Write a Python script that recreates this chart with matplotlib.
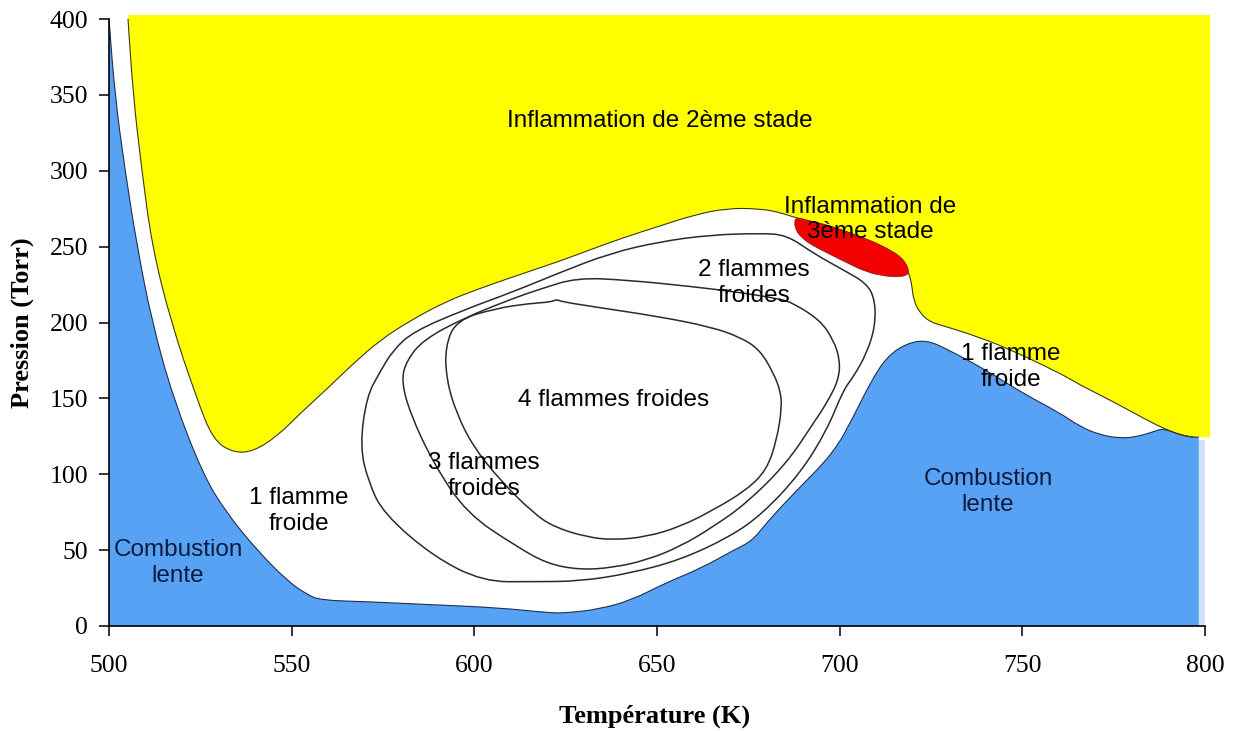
import matplotlib
matplotlib.use("Agg")
import matplotlib.pyplot as plt
from matplotlib.path import Path
from matplotlib.patches import PathPatch

# ---------------- data (T in K, P in Torr) ----------------
# upper boundary of the slow-combustion (blue) region, left to right
blue_T = [500, 501.6, 504.4, 507.7, 511.8, 517.6, 525.7, 532, 540.5, 548.7, 554, 557.8,
          570.6, 588.7, 607, 620.7, 625, 634, 643, 652, 662, 671, 676, 680, 687.4,
          698.3, 703.8, 708.3, 712.9, 718.4, 723.8, 729.8, 740, 750.2, 760.4, 765.8,
          771.3, 776.8, 781.3, 785.9, 788.6, 793.2, 796.8, 798.3]
blue_P = [400, 350, 300, 250, 200, 150, 100, 75, 50, 30, 21, 17,
          16, 14, 12, 8.6, 8.6, 11, 17, 28, 38, 50, 56, 68, 87.4,
          113.8, 138, 160, 177.5, 186.3, 188.5, 182, 168.7, 153.3, 140.2, 131.4,
          125.9, 123.7, 124.7, 128, 130.3, 125.9, 124.4, 124.4]

# lower boundary of the second-stage ignition (yellow) region, left to right
yellow_T = [505.2, 506.6, 509, 511.8, 517, 524, 528.5, 534, 539.5, 546, 552.3, 560, 566,
            574.2, 583, 592.4, 601, 610.7, 623.5, 634, 641.7, 650, 660, 669.1, 678.2,
            683.7, 688.3, 696.5, 705.6, 713.8, 717.4, 718.8, 719.7, 720.2, 722, 724.7,
            727.5, 734.9, 745.1, 760.4, 765.8, 774.9, 784.1, 788.6, 793.2, 796.8, 801.4]
yellow_P = [400, 350, 300, 250, 200, 150, 122.6, 114.2, 115, 125, 140, 157, 171,
            188.5, 202, 214, 222, 230.2, 240.5, 250, 256.6, 263, 270.8, 275.3, 275,
            272.5, 268.7, 264.3, 256.6, 247.8, 241.2, 233.5, 225.8, 214.8, 206.1, 200.5,
            198.4, 193, 184, 166.5, 158.8, 147.8, 135.7, 130.3, 125.9, 124.4, 124.5]
yellow_top = 402.6

# third-stage ignition (red) region outline
red_T = [688.0, 692.0, 696.5, 701.0, 705.6, 710.0, 713.8, 716.6, 718.3, 719.0, 718.3,
         715.5, 712.9, 707.4, 701.0, 696.0, 692.0, 689.3, 688.0, 687.6, 688.0]
red_P = [269.5, 266.8, 264.3, 260.7, 256.6, 252.5, 247.8, 243.5, 238.5, 233.5, 230.8,
         230.0, 230.4, 233.0, 240.5, 246.5, 251.5, 256.5, 261.0, 265.5, 269.5]

# limit of the 2 cold-flame domain
lineA_T = [602.5, 616, 629, 642.6, 656.3, 670, 679, 689.2, 696.5, 701, 703.8, 707.4, 709.7,
           709.7, 707.4, 701, 692.8, 685.5, 678.2, 664.5, 650.8, 637.1, 623.5, 610.7, 597,
           583.3, 577.8, 574.2, 570.5, 568.7, 571, 575.1, 588.8, 602.5]
lineA_P = [29.2, 29.2, 29.5, 34.7, 43.5, 58.8, 74.2, 100.6, 129, 155.5, 164.3, 179.7, 197.2,
           214.8, 225.8, 234.6, 245.6, 257.7, 258.8, 257.7, 253.3, 245.6, 233, 220.3, 208.2,
           194, 181.9, 167.6, 151.1, 118.2, 95, 74.2, 45.7, 29.2]

# limit of the 3 cold-flame domain
lineB_T = [597, 610.7, 618, 628, 641.7, 660, 673.6, 683.7, 687.3, 694.6, 698.3, 700.1, 699.7,
           696.5, 692.8, 685.5, 674.5, 665.4, 656.3, 647.2, 638.1, 628.9, 620, 611.6, 597.9,
           588.8, 582.4, 580, 581.5, 586, 597]
lineB_P = [202.8, 216, 222, 229.5, 228, 223.6, 219.5, 215.5, 212.7, 201.6, 188.5, 175.3, 162.1,
           147, 133.6, 107.2, 80.9, 65.4, 52.3, 43.5, 38.5, 37, 41, 52.3, 74.2,
           107.2, 140.2, 162, 175, 188.5, 202.8]

# limit of the 4 cold-flame domain
lineC_T = [592, 595.1, 606.1, 615, 621, 622.5, 624, 632.6, 650.8, 664.5, 672.7, 678.2, 681.9,
           683.7, 684.2, 682.8, 680, 674.5, 665.4, 656.3, 647.2, 638.1, 631, 622, 616.2, 607,
           599.7, 595.1, 592.4, 592]
lineC_P = [184, 201.6, 209.4, 212.5, 213.5, 215.2, 213.7, 210.4, 203.8, 197.2, 190.5, 181.9, 166.5,
           155.5, 144.5, 122.6, 102.8, 89.6, 76.4, 65.4, 58.8, 56.7, 58.5, 65, 74.2, 96.2,
           118.2, 140.2, 162, 184]

# region labels: (text, T, P, colour)
labels = [
    ("Inflammation de 2ème stade", 650.8, 332.8, "black"),
    ("Inflammation de\n3ème stade", 708.3, 268.0, "black"),
    ("2 flammes\nfroides", 676.6, 226.0, "black"),
    ("1 flamme\nfroide", 746.9, 170.7, "black"),
    ("4 flammes froides", 638.2, 148.9, "black"),
    ("3 flammes\nfroides", 602.7, 98.8, "black"),
    ("1 flamme\nfroide", 552.0, 75.8, "black"),
    ("Combustion\nlente", 518.9, 41.5, "#0d1b3e"),
    ("Combustion\nlente", 740.6, 88.3, "#0d1b3e"),
]

x_ticks = [500, 550, 600, 650, 700, 750, 800]
y_ticks = [0, 50, 100, 150, 200, 250, 300, 350, 400]


# ---------------- helpers: smooth (quadratic Bezier) path through a polyline ----------------
def open_smooth(T, P):
    pts = list(zip(T, P))
    verts = [pts[0], ((pts[0][0] + pts[1][0]) / 2, (pts[0][1] + pts[1][1]) / 2)]
    codes = [Path.MOVETO, Path.LINETO]
    for i in range(1, len(pts) - 1):
        a, b = pts[i], pts[i + 1]
        verts += [a, ((a[0] + b[0]) / 2, (a[1] + b[1]) / 2)]
        codes += [Path.CURVE3, Path.CURVE3]
    verts.append(pts[-1])
    codes.append(Path.LINETO)
    return verts, codes


def closed_smooth(T, P):
    pts = list(zip(T, P))
    if pts[0] == pts[-1]:
        pts = pts[:-1]
    m = len(pts)
    mid = lambda a, b: ((a[0] + b[0]) / 2, (a[1] + b[1]) / 2)
    verts = [mid(pts[-1], pts[0])]
    codes = [Path.MOVETO]
    for i in range(m):
        a, b = pts[i], pts[(i + 1) % m]
        verts += [a, mid(a, b)]
        codes += [Path.CURVE3, Path.CURVE3]
    return verts, codes


# ---------------- figure ----------------
YELLOW = "#FFFF00"
BLUE = "#58A2F5"
RED = "#F20000"
EDGE = "#2b2b2b"

fig = plt.figure(figsize=(12.34, 7.31), dpi=100)
ax = fig.add_axes([109 / 1234, 1 - 626 / 731, 1096 / 1234, 607 / 731])
ax.set_xlim(500, 800)
ax.set_ylim(0, 400)

# slow combustion region
v, c = open_smooth(blue_T, blue_P)
v = [(blue_T[0], 0)] + v + [(blue_T[-1], 0), (blue_T[0], 0)]
c = [Path.MOVETO] + [Path.LINETO] + c[1:] + [Path.LINETO, Path.CLOSEPOLY]
ax.add_patch(PathPatch(Path(v, c), fc=BLUE, lw=0, zorder=1))
ax.fill_betweenx([0, blue_P[-1] - 2], blue_T[-1], 800, color="#cfe2f7", lw=0, zorder=1)
v, c = open_smooth(blue_T, blue_P)
ax.add_patch(PathPatch(Path(v, c), fc="none", ec="#1d2f4f", lw=0.8, zorder=2))

# second-stage ignition region
v, c = open_smooth(yellow_T, yellow_P)
v = v + [(yellow_T[-1], yellow_top), (yellow_T[0], yellow_top), v[0]]
c = c + [Path.LINETO, Path.LINETO, Path.CLOSEPOLY]
ax.add_patch(PathPatch(Path(v, c), fc=YELLOW, lw=0, zorder=1, clip_on=False))
v, c = open_smooth(yellow_T[:-1], yellow_P[:-1])
ax.add_patch(PathPatch(Path(v, c), fc="none", ec="#3a3a10", lw=0.8, zorder=2))

# third-stage ignition
v, c = closed_smooth(red_T, red_P)
ax.add_patch(PathPatch(Path(v, c), fc=RED, ec="#7a2020", lw=0.5, zorder=2))

# cold-flame domains
for T, P in [(lineA_T, lineA_P), (lineB_T, lineB_P), (lineC_T, lineC_P)]:
    v, c = closed_smooth(T, P)
    ax.add_patch(PathPatch(Path(v, c), fc="none", ec=EDGE, lw=1.1, zorder=3))

for txt, T, P, col in labels:
    ax.text(T, P, txt, ha="center", va="center", color=col, fontsize=17.5,
            family="Liberation Sans", linespacing=1.2, zorder=5)

# axes styling
for s in ["top", "right"]:
    ax.spines[s].set_visible(False)
for s in ["left", "bottom"]:
    ax.spines[s].set_linewidth(1.2)
    ax.spines[s].set_zorder(6)
ax.set_xticks(x_ticks)
ax.set_yticks(y_ticks)
ax.tick_params(direction="out", length=7, width=1.1, labelsize=18.5)
ax.tick_params(axis="x", pad=14)
ax.tick_params(axis="y", pad=8)
for lab in ax.get_xticklabels() + ax.get_yticklabels():
    lab.set_fontfamily("Liberation Serif")

ax.set_xlabel("Température (K)", family="Liberation Serif", fontweight="bold",
              fontsize=19, va="center")
ax.xaxis.set_label_coords(0.498, -0.149)
ax.set_ylabel("Pression (Torr)", family="Liberation Serif", fontweight="bold",
              fontsize=19, va="center")
ax.yaxis.set_label_coords(-0.079, 0.5)

fig.savefig("out.png", dpi=100)
